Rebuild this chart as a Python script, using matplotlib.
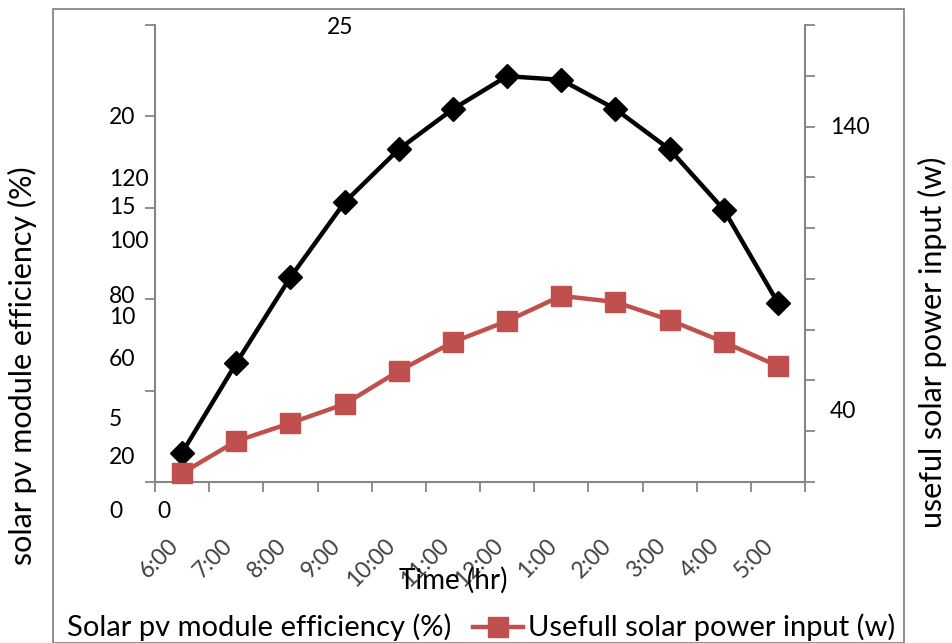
import matplotlib
matplotlib.use("Agg")
import matplotlib.pyplot as plt
from matplotlib.lines import Line2D
from matplotlib.patches import Rectangle

plt.rcParams['font.family'] = ['Lato', 'DejaVu Sans']

# ---- data ----
times = ["6:00", "7:00", "8:00", "9:00", "10:00", "11:00", "12:00",
         "1:00", "2:00", "3:00", "4:00", "5:00"]
efficiency = [1.6, 6.5, 11.2, 15.3, 18.2, 20.4, 22.2, 22.0, 20.4, 18.2, 14.9, 9.8]
power_input = [3.5, 16.1, 23.2, 30.7, 43.7, 55.1, 63.4, 73.3, 70.9, 63.8, 55.1, 45.7]

left_ticks = [0, 5, 10, 15, 20, 25]
right_ticks = [0, 20, 40, 60, 80, 100, 120, 140, 160, 180]

W, H = 952, 643
fig = plt.figure(figsize=(W / 100, H / 100), dpi=100)


def fx(x):
    return x / W


def fy(y):
    return 1 - y / H


GRAY = "#868686"
RED = "#C0504D"

# outer chart frame
fig.patches.append(Rectangle((fx(53), fy(643)), fx(904) - fx(53), fy(9) - fy(643),
                             transform=fig.transFigure, fill=False,
                             edgecolor=GRAY, linewidth=1.3))

ax = fig.add_axes([fx(155), fy(482), fx(805) - fx(155), fy(25) - fy(482)])
ax2 = ax.twinx()

x = list(range(len(times)))
ax.plot(x, efficiency, color="black", linewidth=3.2, marker="D", markersize=12,
        markeredgewidth=1, zorder=3, clip_on=False)
ax2.plot(x, power_input, color=RED, linewidth=3.2, marker="s", markersize=14,
         zorder=3, clip_on=False)

ax.set_xlim(-0.5, len(times) - 0.5)
ax.set_ylim(left_ticks[0], left_ticks[-1])
ax2.set_ylim(right_ticks[0], right_ticks[-1])
ax.set_yticks(left_ticks)
ax2.set_yticks(right_ticks)
ax.set_yticklabels([])
ax2.set_yticklabels([])

# category boundary ticks, labels at category centres
ax.set_xticks([i - 0.5 for i in range(len(times) + 1)])
ax.set_xticklabels([])
ax.set_xticks(x, minor=True)
ax.set_xticklabels(times, minor=True, rotation=45, ha="right", va="top",
                   fontsize=16.5, color="#404040")
ax.tick_params(axis="x", which="minor", length=0, pad=38)
ax.tick_params(axis="x", which="major", length=7, width=1.3, color=GRAY)
ax.tick_params(axis="y", length=7, width=1.3, color=GRAY)
ax2.tick_params(axis="y", length=7, width=1.3, color=GRAY)

for a in (ax, ax2):
    a.spines["top"].set_visible(False)
    for s in ("left", "right", "bottom"):
        a.spines[s].set_color(GRAY)
        a.spines[s].set_linewidth(1.5)
ax.spines["right"].set_visible(False)
ax2.spines["left"].set_visible(False)
ax2.spines["bottom"].set_visible(False)

# tick-label texts as they appear in the original (overlapping scales)
fs = 16.5
left_labels = [("25", 327, 27), ("20", 109, 117), ("120", 109, 180),
               ("15", 109, 207), ("100", 109, 242), ("80", 109, 297),
               ("10", 109, 318), ("60", 109, 359), ("5", 109, 420),
               ("20", 109, 457), ("0", 109, 512), ("0", 157, 512)]
for t, px, py in left_labels:
    fig.text(fx(px), fy(py), t, ha="left", va="center", fontsize=fs)
for t, px, py in [("140", 830, 128), ("40", 830, 412)]:
    fig.text(fx(px), fy(py), t, ha="left", va="center", fontsize=fs)

# axis titles
fig.text(fx(22), fy(366), "solar pv module efficiency (%)", rotation=90,
         ha="center", va="center", fontsize=22)
fig.text(fx(932), fy(342), "useful solar power input (w)", rotation=90,
         ha="center", va="center", fontsize=22)
fig.text(fx(453), fy(580), "Time (hr)", ha="center", va="center", fontsize=20)

# legend
fig.text(fx(67), fy(627), "Solar pv module efficiency (%)", ha="left",
         va="center", fontsize=21)
fig.lines.append(Line2D([fx(473), fx(523)], [fy(627), fy(627)],
                        transform=fig.transFigure, color=RED, linewidth=3.2))
fig.lines.append(Line2D([fx(498)], [fy(627)], transform=fig.transFigure,
                        color=RED, marker="s", markersize=14, linestyle="none"))
fig.text(fx(528), fy(627), "Usefull solar power input (w)", ha="left",
         va="center", fontsize=21)

fig.savefig("out.png", dpi=100)
